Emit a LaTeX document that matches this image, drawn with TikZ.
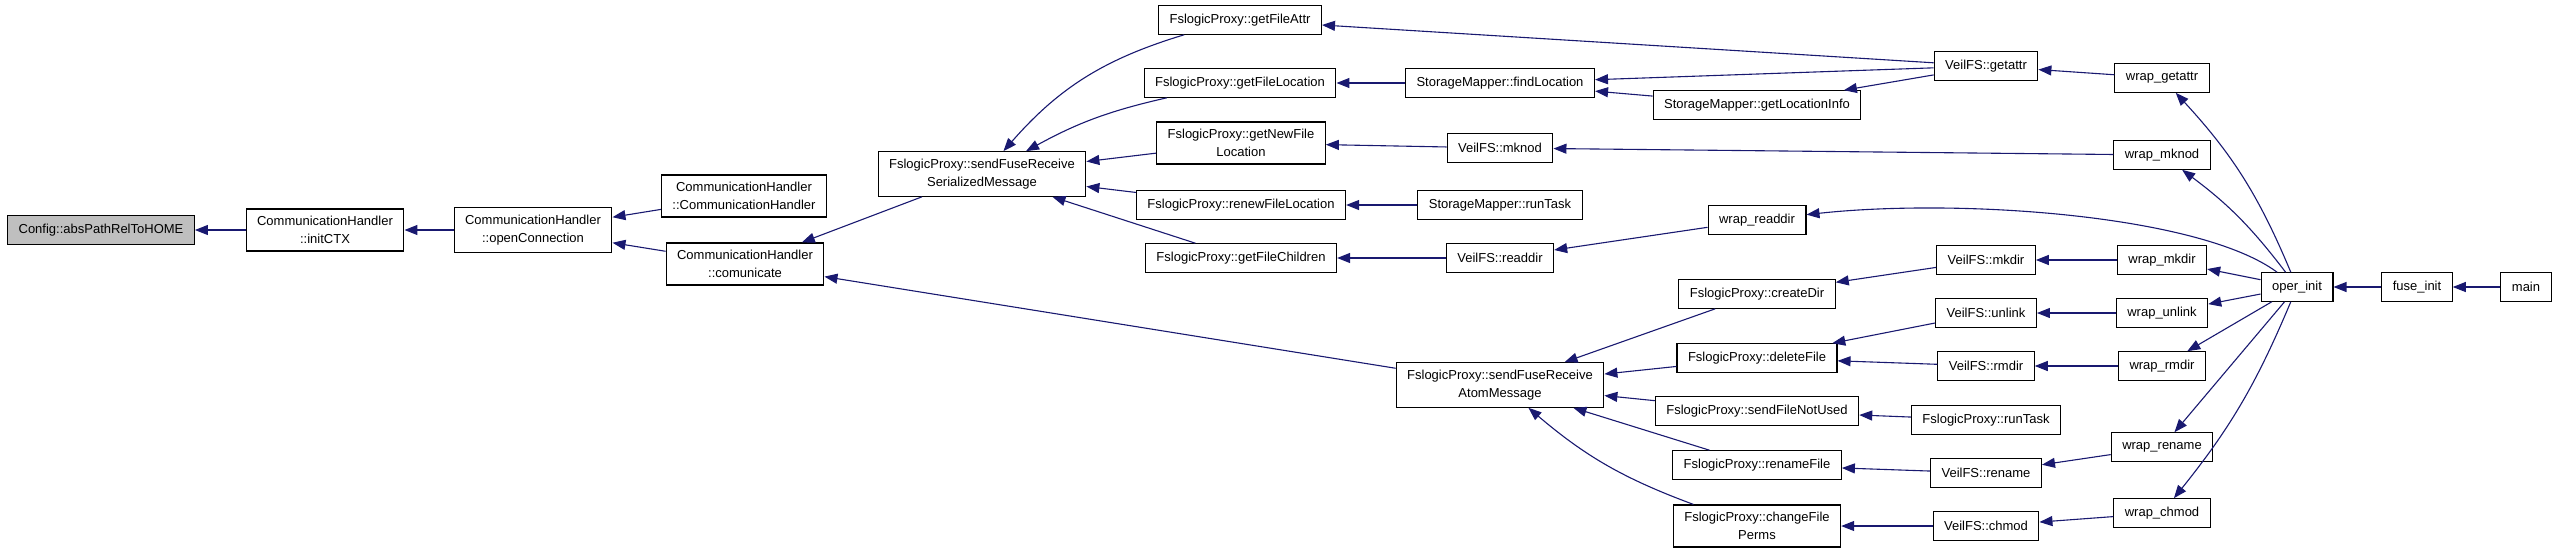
\documentclass[tikz,border=0pt]{standalone}
\usepackage{fontspec}
\setmainfont{Liberation Sans}
\usetikzlibrary{arrows.meta}
\definecolor{edgeblue}{HTML}{191970}
\begin{document}
\begin{tikzpicture}[
    x=1pt, y=-1pt,
    fn/.style={rectangle, draw, fill=white, line width=1.1pt, align=center,
        font=\fontsize{13}{17.5}\selectfont, inner xsep=11pt, inner ysep=7.5pt, minimum height=28.5pt},
    current/.style={fn, fill=gray!50},
    arrow/.style={-{Triangle[length=13pt,width=10pt]}, edgeblue, line width=1.1pt}
]
\useasboundingbox (0,0) rectangle (2557,555);

% Config and communication handler
\node[current] (config) at (101, 230) {Config::absPathRelToHOME};
\node[fn] (initctx) at (325, 230) {CommunicationHandler\\::initCTX};
\node[fn] (openconn) at (533, 230) {CommunicationHandler\\::openConnection};
\node[fn] (chctor) at (744, 196) {CommunicationHandler\\::CommunicationHandler};
\node[fn] (comm) at (745, 264) {CommunicationHandler\\::comunicate};

% FslogicProxy senders
\node[fn] (sersend) at (982, 174) {FslogicProxy::sendFuseReceive\\SerializedMessage};
\node[fn] (atomsend) at (1500, 385) {FslogicProxy::sendFuseReceive\\AtomMessage};

% Serialized message callers
\node[fn] (fileattr) at (1240, 20) {FslogicProxy::getFileAttr};
\node[fn] (fileloc) at (1240, 83) {FslogicProxy::getFileLocation};
\node[fn] (newfileloc) at (1241, 143) {FslogicProxy::getNewFile\\Location};
\node[fn] (renewloc) at (1241, 205) {FslogicProxy::renewFileLocation};
\node[fn] (children) at (1241, 258) {FslogicProxy::getFileChildren};
\node[fn] (findloc) at (1500, 83) {StorageMapper::findLocation};
\node[fn] (vmknod) at (1500, 148) {VeilFS::mknod};
\node[fn] (smruntask) at (1500, 205) {StorageMapper::runTask};
\node[fn] (vreaddir) at (1500, 258) {VeilFS::readdir};
\node[fn] (locinfo) at (1757, 105) {StorageMapper::getLocationInfo};
\node[fn] (wreaddir) at (1757, 220) {wrap\_readdir};
\node[fn] (vgetattr) at (1986, 66) {VeilFS::getattr};

% Atom message callers
\node[fn] (createdir) at (1757, 294) {FslogicProxy::createDir};
\node[fn] (deletefile) at (1757, 358) {FslogicProxy::deleteFile};
\node[fn] (notused) at (1757, 411) {FslogicProxy::sendFileNotUsed};
\node[fn] (renamefile) at (1757, 465) {FslogicProxy::renameFile};
\node[fn] (chmodperms) at (1757, 526) {FslogicProxy::changeFile\\Perms};
\node[fn] (vmkdir) at (1986, 260) {VeilFS::mkdir};
\node[fn] (vunlink) at (1986, 313) {VeilFS::unlink};
\node[fn] (vrmdir) at (1986, 366) {VeilFS::rmdir};
\node[fn] (fpruntask) at (1986, 420) {FslogicProxy::runTask};
\node[fn] (vrename) at (1986, 473) {VeilFS::rename};
\node[fn] (vchmod) at (1986, 526) {VeilFS::chmod};

% Fuse wrappers
\node[fn] (wgetattr) at (2162, 78) {wrap\_getattr};
\node[fn] (wmknod) at (2162, 155) {wrap\_mknod};
\node[fn] (wmkdir) at (2162, 260) {wrap\_mkdir};
\node[fn] (wunlink) at (2162, 313) {wrap\_unlink};
\node[fn] (wrmdir) at (2162, 366) {wrap\_rmdir};
\node[fn] (wrename) at (2162, 447) {wrap\_rename};
\node[fn] (wchmod) at (2162, 513) {wrap\_chmod};
\node[fn] (operinit) at (2297, 287) {oper\_init};
\node[fn] (fuseinit) at (2417, 287) {fuse\_init};
\node[fn] (main) at (2526, 287) {main};

% Calls (caller -> callee)
\draw[arrow] (initctx) -- (config);
\draw[arrow] (openconn) -- (initctx);
\draw[arrow] (chctor) -- (openconn);
\draw[arrow] (comm) -- (openconn);
\draw[arrow] (sersend) -- (comm);
\draw[arrow] (atomsend) -- (comm);
\draw[arrow] (fileattr) to[bend right=16] (sersend);
\draw[arrow] (fileloc) to[bend right=8] (sersend);
\draw[arrow] (newfileloc) -- (sersend);
\draw[arrow] (renewloc) -- (sersend);
\draw[arrow] (children) -- (sersend);
\draw[arrow] (findloc) -- (fileloc);
\draw[arrow] (vmknod) -- (newfileloc);
\draw[arrow] (smruntask) -- (renewloc);
\draw[arrow] (vreaddir) -- (children);
\draw[arrow] (vgetattr) -- (fileattr);
\draw[arrow] (vgetattr) -- (findloc);
\draw[arrow] (locinfo) -- (findloc);
\draw[arrow] (vgetattr) -- (locinfo);
\draw[arrow] (wgetattr) -- (vgetattr);
\draw[arrow] (wmknod) -- (vmknod);
\draw[arrow] (wreaddir) -- (vreaddir);
\draw[arrow] (vmkdir) -- (createdir);
\draw[arrow] (vunlink) -- (deletefile);
\draw[arrow] (vrmdir) -- (deletefile);
\draw[arrow] (fpruntask) -- (notused);
\draw[arrow] (vrename) -- (renamefile);
\draw[arrow] (vchmod) -- (chmodperms);
\draw[arrow] (createdir) -- (atomsend);
\draw[arrow] (deletefile) -- (atomsend);
\draw[arrow] (notused) -- (atomsend);
\draw[arrow] (renamefile) -- (atomsend);
\draw[arrow] (chmodperms) to[bend left=10] (atomsend);
\draw[arrow] (wmkdir) -- (vmkdir);
\draw[arrow] (wunlink) -- (vunlink);
\draw[arrow] (wrmdir) -- (vrmdir);
\draw[arrow] (wrename) -- (vrename);
\draw[arrow] (wchmod) -- (vchmod);
\draw[arrow] (operinit) to[bend right=10] (wgetattr);
\draw[arrow] (operinit) to[bend right=8] (wmknod);
\draw[arrow] (operinit) .. controls (2200, 215) and (1960, 198) .. (wreaddir);
\draw[arrow] (operinit) -- (wmkdir);
\draw[arrow] (operinit) -- (wunlink);
\draw[arrow] (operinit) -- (wrmdir);
\draw[arrow] (operinit) -- (wrename);
\draw[arrow] (operinit) to[bend left=8] (wchmod);
\draw[arrow] (fuseinit) -- (operinit);
\draw[arrow] (main) -- (fuseinit);

\end{tikzpicture}
\end{document}
